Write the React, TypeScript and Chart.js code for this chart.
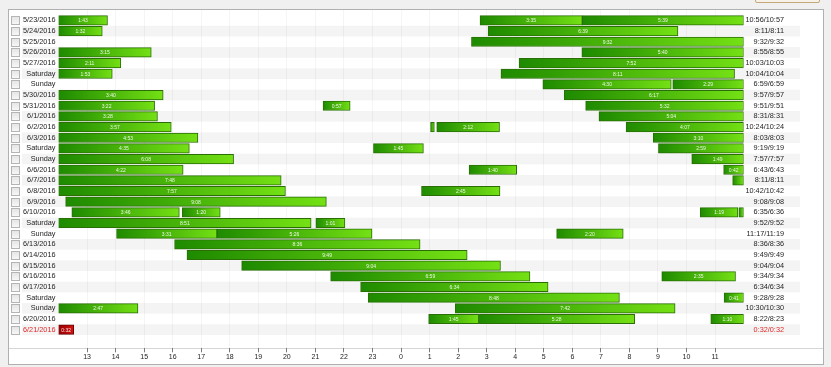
import { useEffect, useRef } from 'react';
import { Chart, registerables } from 'chart.js';

Chart.register(...registerables);

const rowLabels = [
  '5/23/2016', '5/24/2016', '5/25/2016', '5/26/2016', '5/27/2016', 'Saturday', 'Sunday',
  '5/30/2016', '5/31/2016', '6/1/2016', '6/2/2016', '6/3/2016', 'Saturday', 'Sunday',
  '6/6/2016', '6/7/2016', '6/8/2016', '6/9/2016', '6/10/2016', 'Saturday', 'Sunday',
  '6/13/2016', '6/14/2016', '6/15/2016', '6/16/2016', '6/17/2016', 'Saturday', 'Sunday',
  '6/20/2016', '6/21/2016',
];

const totalLabels = [
  '10:56/10:57', '8:11/8:11', '9:32/9:32', '8:55/8:55', '10:03/10:03', '10:04/10:04', '6:59/6:59',
  '9:57/9:57', '9:51/9:51', '8:31/8:31', '10:24/10:24', '8:03/8:03', '9:19/9:19', '7:57/7:57',
  '6:43/6:43', '8:11/8:11', '10:42/10:42', '9:08/9:08', '6:35/6:36', '9:52/9:52', '11:17/11:19',
  '8:36/8:36', '9:49/9:49', '9:04/9:04', '9:34/9:34', '6:34/6:34', '9:28/9:28', '10:30/10:30',
  '8:22/8:23', '0:32/0:32',
];

// segment start times (clock) per row
const segStarts: string[][] = [
  ['12:00', '2:46', '6:21'],
  ['12:00', '3:03'],
  ['2:28'],
  ['12:00', '6:20'],
  ['12:00', '4:08'],
  ['12:00', '3:30'],
  ['4:58', '9:31'],
  ['12:00', '5:43'],
  ['12:00', '21:16', '6:28'],
  ['12:00', '6:56'],
  ['12:00', '1:02', '1:15', '7:53'],
  ['12:00', '8:50'],
  ['12:00', '23:02', '9:01'],
  ['12:00', '10:11'],
  ['12:00', '2:23', '11:18'],
  ['12:00', '11:37'],
  ['12:00', '0:43'],
  ['12:15'],
  ['12:28', '16:20', '10:29', '11:50'],
  ['12:00', '21:01'],
  ['14:02', '17:33', '5:27'],
  ['16:04'],
  ['16:30'],
  ['18:25'],
  ['21:32', '9:08'],
  ['22:35'],
  ['22:51', '11:19'],
  ['12:00', '1:54'],
  ['0:58', '2:43', '10:51'],
  ['12:00'],
];

// segment durations per row
const segDurations: string[][] = [
  ['1:43', '3:35', '5:39'],
  ['1:32', '6:39'],
  ['9:32'],
  ['3:15', '5:40'],
  ['2:11', '7:52'],
  ['1:53', '8:11'],
  ['4:30', '2:29'],
  ['3:40', '6:17'],
  ['3:22', '0:57', '5:32'],
  ['3:28', '5:04'],
  ['3:57', '0:08', '2:12', '4:07'],
  ['4:53', '3:10'],
  ['4:35', '1:45', '2:59'],
  ['6:08', '1:49'],
  ['4:22', '1:40', '0:42'],
  ['7:48', '0:23'],
  ['7:57', '2:45'],
  ['9:08'],
  ['3:46', '1:20', '1:19', '0:10'],
  ['8:51', '1:01'],
  ['3:31', '5:26', '2:20'],
  ['8:36'],
  ['9:49'],
  ['9:04'],
  ['6:59', '2:35'],
  ['6:34'],
  ['8:48', '0:41'],
  ['2:47', '7:42'],
  ['1:45', '5:28', '1:10'],
  ['0:32'],
];

const hourTicks = [12, 13, 14, 15, 16, 17, 18, 19, 20, 21, 22, 23, 24, 25, 26, 27, 28, 29, 30, 31, 32, 33, 34, 35, 36];
const highlightRow = 29;

const FONT = 'Liberation Sans';
const RED = '#e02828';

function parseHM(s: string) {
  const [h, m] = s.split(':').map(Number);
  return h + m / 60;
}
function toAxisHour(clock: string) {
  const v = parseHM(clock);
  return v < 12 ? v + 24 : v;
}

const maxSeg = Math.max(...segStarts.map((s) => s.length));

function barFill(c: any) {
  const raw = c.raw;
  const chart = c.chart;
  const xs = chart.scales && chart.scales.x;
  const red = raw && raw.y === highlightRow;
  if (!raw || !xs) return red ? '#c00000' : '#3fa800';
  const x0 = xs.getPixelForValue(raw.x[0]);
  const x1 = xs.getPixelForValue(raw.x[1]);
  if (!isFinite(x0) || !isFinite(x1) || x1 - x0 < 1) return red ? '#c00000' : '#3fa800';
  const g = chart.ctx.createLinearGradient(x0, 0, x1, 0);
  if (red) {
    g.addColorStop(0, '#980000');
    g.addColorStop(1, '#d41212');
  } else {
    g.addColorStop(0, '#1e8a00');
    g.addColorStop(1, '#74e014');
  }
  return g;
}
function barBorder(c: any) {
  const raw = c.raw;
  return raw && raw.y === highlightRow ? '#6a0000' : '#2a6e06';
}

const decorPlugin = {
  id: 'decor',
  beforeDraw(chart: any) {
    const { ctx, scales, chartArea } = chart;
    const ys = scales.y;
    const pitch = Math.abs(ys.getPixelForValue(1) - ys.getPixelForValue(0));
    ctx.save();
    rowLabels.forEach((_, i) => {
      const cy = ys.getPixelForValue(i);
      if (i % 2 === 1) {
        ctx.fillStyle = '#f4f4f4';
        ctx.fillRect(13, cy - pitch / 2, 778, pitch);
      }
      const bx = 2.5;
      const by = Math.round(cy - 4) + 0.5;
      const g = ctx.createLinearGradient(0, by, 0, by + 8);
      g.addColorStop(0, '#e4e4e4');
      g.addColorStop(1, '#f8f8f8');
      ctx.fillStyle = g;
      ctx.fillRect(bx, by, 8, 8);
      ctx.strokeStyle = '#b4b4b4';
      ctx.lineWidth = 1;
      ctx.strokeRect(bx, by, 8, 8);
    });
    ctx.restore();
    // separator line above time axis
    ctx.save();
    ctx.strokeStyle = '#d6d6d6';
    ctx.lineWidth = 1;
    const y = Math.round(chartArea.bottom) + 0.5;
    ctx.beginPath();
    ctx.moveTo(0, y);
    ctx.lineTo(chart.width, y);
    ctx.stroke();
    ctx.restore();
  },
};

const barTextPlugin = {
  id: 'barText',
  afterDatasetsDraw(chart: any) {
    const ctx = chart.ctx;
    ctx.save();
    ctx.font = `5px "${FONT}"`;
    ctx.textAlign = 'center';
    ctx.textBaseline = 'middle';
    ctx.fillStyle = 'rgba(255,255,255,0.9)';
    chart.data.datasets.forEach((ds: any, di: number) => {
      const meta = chart.getDatasetMeta(di);
      meta.data.forEach((el: any, i: number) => {
        const raw = ds.data[i];
        const { x, base, y } = el.getProps(['x', 'base', 'y'], true);
        const w = Math.abs(x - base);
        const tw = ctx.measureText(raw.label).width;
        if (w > tw + 5) ctx.fillText(raw.label, (x + base) / 2, y + 0.5);
      });
    });
    ctx.restore();
  },
};

const Y_MIN = -0.45;
const Y_MAX = 30.22;

export default function App() {
  const ref = useRef<HTMLCanvasElement>(null);

  useEffect(() => {
    const datasets = Array.from({ length: maxSeg }, (_, k) => ({
      label: `segment ${k + 1}`,
      data: segStarts.flatMap((starts, row) => {
        if (!starts[k]) return [];
        const s = toAxisHour(starts[k]);
        const d = parseHM(segDurations[row][k]);
        return [{ x: [s, s + d], y: row, label: segDurations[row][k] }];
      }),
      grouped: false,
      barPercentage: 1,
      categoryPercentage: 1,
      maxBarThickness: 9.5,
      borderWidth: 1,
      borderSkipped: false,
      backgroundColor: barFill,
      borderColor: barBorder,
      xAxisID: 'x',
      yAxisID: 'y',
    }));

    const chart = new Chart(ref.current as HTMLCanvasElement, {
      type: 'bar',
      data: { datasets: datasets as any },
      options: {
        indexAxis: 'y',
        animation: false,
        responsive: false,
        devicePixelRatio: 1,
        events: [],
        layout: { padding: { left: 0, top: 0, bottom: 0, right: 39 } },
        plugins: { legend: { display: false }, tooltip: { enabled: false } },
        scales: {
          x: {
            type: 'linear',
            position: 'bottom',
            min: 12,
            max: 36,
            afterBuildTicks: (s: any) => {
              s.ticks = hourTicks.map((v) => ({ value: v }));
            },
            afterFit: (s: any) => {
              s.height = 15.7;
              s.paddingLeft = 0;
              s.paddingRight = 0;
            },
            border: { display: false },
            grid: {
              color: (c: any) =>
                c.tick && (c.tick.value === 12 || c.tick.value === 36) ? 'rgba(0,0,0,0)' : 'rgba(0,0,0,0.04)',
              tickColor: (c: any) =>
                c.tick && (c.tick.value === 12 || c.tick.value === 36) ? 'rgba(0,0,0,0)' : '#7a7a7a',
              tickLength: 4,
              drawTicks: true,
            },
            ticks: {
              autoSkip: false,
              maxRotation: 0,
              padding: 1,
              color: '#222',
              font: { family: FONT, size: 7 },
              callback: (v: any) => (v === 12 || v === 36 ? '' : String(Number(v) % 24)),
            },
          },
          y: {
            type: 'linear',
            position: 'left',
            reverse: true,
            min: Y_MIN,
            max: Y_MAX,
            afterBuildTicks: (s: any) => {
              s.ticks = rowLabels.map((_, i) => ({ value: i }));
            },
            afterFit: (s: any) => {
              s.width = 49.5;
              s.paddingTop = 0;
              s.paddingBottom = 0;
            },
            border: { display: false },
            grid: { display: false, drawTicks: false },
            ticks: {
              autoSkip: false,
              padding: 3,
              font: { family: FONT, size: 7.3 },
              color: (c: any) => (c.index === highlightRow ? RED : '#1e1e1e'),
              callback: (v: any) => rowLabels[v] ?? '',
            },
          },
          y2: {
            type: 'linear',
            position: 'right',
            reverse: true,
            min: Y_MIN,
            max: Y_MAX,
            afterBuildTicks: (s: any) => {
              s.ticks = totalLabels.map((_, i) => ({ value: i }));
            },
            afterFit: (s: any) => {
              s.width = 40.4;
              s.paddingTop = 0;
              s.paddingBottom = 0;
            },
            border: { display: false },
            grid: { display: false, drawTicks: false },
            ticks: {
              autoSkip: false,
              crossAlign: 'far',
              padding: 0,
              font: { family: FONT, size: 7.3 },
              color: (c: any) => (c.index === highlightRow ? RED : '#1e1e1e'),
              callback: (v: any) => totalLabels[v] ?? '',
            },
          },
        },
      } as any,
      plugins: [decorPlugin, barTextPlugin],
    });
    return () => chart.destroy();
  }, []);

  return (
    <div
      style={{
        position: 'fixed',
        left: 0,
        top: 0,
        width: 831,
        height: 367,
        background: '#f0f0f0',
        overflow: 'hidden',
      }}
    >
      <div
        style={{
          position: 'absolute',
          left: 755,
          top: -12,
          width: 65,
          height: 15,
          boxSizing: 'border-box',
          border: '1px solid #c4a878',
          background: '#f6f2ea',
          borderRadius: 2,
        }}
      />
      <div
        style={{
          position: 'absolute',
          left: 8,
          top: 9,
          width: 816,
          height: 356,
          boxSizing: 'border-box',
          border: '1px solid #b0b0b0',
          background: '#ffffff',
        }}
      >
        <canvas ref={ref} width={814} height={354} style={{ display: 'block', width: 814, height: 354 }} />
      </div>
    </div>
  );
}
